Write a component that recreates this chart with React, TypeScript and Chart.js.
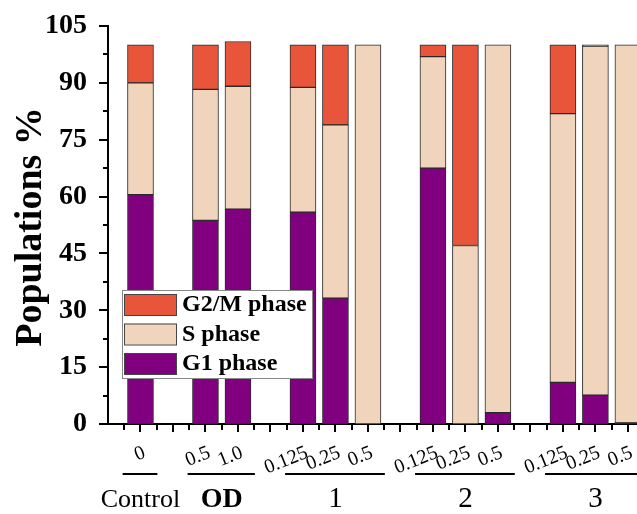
import React, { useEffect, useRef } from 'react';
import { Chart, registerables } from 'chart.js';

Chart.register(...registerables);

// ---- data ----
const slots = [1, 3, 4, 6, 7, 8, 10, 11, 12, 14, 15, 16];
const tickLabels = ['0', '0.5', '1.0', '0.125', '0.25', '0.5', '0.125', '0.25', '0.5', '0.125', '0.25', '0.5'];
const g1Values = [60.5, 53.7, 56.7, 55.9, 33.2, 0, 67.5, 0, 3.0, 11.0, 7.6, 0.3];
const sValues = [29.5, 34.6, 32.4, 32.9, 45.7, 100, 29.4, 47.1, 97.0, 70.9, 92.1, 99.7];
const g2Values = [10.0, 11.7, 11.8, 11.2, 21.1, 0, 3.1, 52.9, 0, 18.1, 0.3, 0];
const seriesNames = ['G1 phase', 'S phase', 'G2/M phase'];
const groupLabels = ['Control', 'OD', '1', '2', '3'];
const groupFirstSlot = [1, 3, 6, 10, 14];
const groupLastSlot = [1, 4, 8, 12, 16];
const yTitle = 'Populations %';
const yMax = 105;
const yStep = 15;

const FONT = "'Liberation Serif', 'Times New Roman', serif";
const COLORS = ['#800080', '#F0D5BC', '#E8553A'];

const decor = {
  id: 'decor',
  afterDraw(chart: any) {
    const { ctx, chartArea } = chart;
    const x = chart.scales.x;
    const y = chart.scales.y;
    ctx.save();
    ctx.strokeStyle = '#000';
    ctx.lineWidth = 2;
    // y ticks (major + minor)
    for (let k = 0; k * (yStep / 2) <= yMax + 0.001; k++) {
      const v = k * (yStep / 2);
      const py = Math.round(y.getPixelForValue(v));
      const len = k % 2 === 0 ? 9 : 5;
      ctx.beginPath();
      ctx.moveTo(chartArea.left - len, py);
      ctx.lineTo(chartArea.left, py);
      ctx.stroke();
    }
    // x ticks (major at integers, minor at halves)
    for (let k = 1; ; k++) {
      const v = k * 0.5;
      const px = Math.round(x.getPixelForValue(v));
      if (px > chartArea.right) break;
      const len = k % 2 === 0 ? 8 : 6;
      ctx.beginPath();
      ctx.moveTo(px, chartArea.bottom);
      ctx.lineTo(px, chartArea.bottom + len);
      ctx.stroke();
    }
    // y axis title
    ctx.save();
    ctx.translate(31, (chartArea.top + chartArea.bottom) / 2 + 2);
    ctx.rotate(-Math.PI / 2);
    ctx.font = `bold 38px ${FONT}`;
    ctx.fillStyle = '#000';
    ctx.textAlign = 'center';
    ctx.textBaseline = 'middle';
    ctx.fillText(yTitle, 0, 0);
    ctx.restore();
    // group lines and labels
    const slotPx = x.getPixelForValue(1) - x.getPixelForValue(0);
    groupLabels.forEach((lab, i) => {
      const a = x.getPixelForValue(groupFirstSlot[i]) - 0.55 * slotPx;
      const b = x.getPixelForValue(groupLastSlot[i]) + 0.52 * slotPx;
      ctx.strokeStyle = '#000';
      ctx.lineWidth = 2;
      ctx.beginPath();
      ctx.moveTo(a, 474);
      ctx.lineTo(b, 474);
      ctx.stroke();
      const cx = (x.getPixelForValue(groupFirstSlot[i]) + x.getPixelForValue(groupLastSlot[i])) / 2;
      let font = `29px ${FONT}`;
      if (lab === 'Control') font = `26px ${FONT}`;
      if (lab === 'OD') font = `bold 28px ${FONT}`;
      ctx.font = font;
      ctx.fillStyle = '#000';
      ctx.textAlign = 'center';
      ctx.textBaseline = 'alphabetic';
      ctx.fillText(lab, cx, 507);
    });
    // legend
    const lx = 122, ly = 290, lw = 190, lh = 88;
    ctx.fillStyle = '#fff';
    ctx.fillRect(lx, ly, lw, lh);
    ctx.strokeStyle = '#888';
    ctx.lineWidth = 1;
    ctx.strokeRect(lx + 0.5, ly + 0.5, lw, lh);
    const order = [2, 1, 0];
    order.forEach((si, row) => {
      const sy = ly + 4 + row * 29.5;
      ctx.fillStyle = COLORS[si];
      ctx.fillRect(lx + 2, sy, 52, 21);
      ctx.strokeStyle = '#444';
      ctx.lineWidth = 1;
      ctx.strokeRect(lx + 2.5, sy + 0.5, 52, 21);
      ctx.fillStyle = '#000';
      ctx.font = `bold 24px ${FONT}`;
      ctx.textAlign = 'left';
      ctx.textBaseline = 'middle';
      ctx.fillText(seriesNames[si], lx + 60, sy + 11);
    });
    ctx.restore();
  },
};

export default function App() {
  const ref = useRef<HTMLCanvasElement | null>(null);
  useEffect(() => {
    if (!ref.current) return;
    const mk = (vals: number[], i: number) => ({
      label: seriesNames[i],
      data: slots.map((s, j) => ({ x: s, y: vals[j] })),
      backgroundColor: COLORS[i],
      borderColor: '#2a2a2a',
      borderWidth: 1,
      borderSkipped: false,
      barThickness: 26,
    });
    const chart = new Chart(ref.current, {
      type: 'bar',
      data: { datasets: [mk(g1Values, 0), mk(sValues, 1), mk(g2Values, 2)] as any },
      options: {
        animation: false,
        responsive: false,
        devicePixelRatio: 1,
        layout: { padding: { top: 26, left: 0, right: 0, bottom: 0 } },
        plugins: { legend: { display: false }, tooltip: { enabled: false } },
        scales: {
          x: {
            type: 'linear',
            stacked: true,
            offset: false,
            min: 0,
            max: 16.28,
            grid: { display: false, offset: false },
            border: { display: true, color: '#000', width: 2 },
            afterBuildTicks: (s: any) => {
              s.ticks = slots.map((v) => ({ value: v }));
            },
            ticks: {
              autoSkip: false,
              minRotation: 22,
              maxRotation: 22,
              padding: 9,
              labelOffset: 4,
              color: '#000',
              font: { family: FONT, size: 20 },
              callback: (_v: any, i: number) => tickLabels[i],
            },
            afterFit: (s: any) => {
              s.height = 90;
              s.paddingLeft = 0;
              s.paddingRight = 0;
            },
          } as any,
          y: {
            stacked: true,
            min: 0,
            max: yMax,
            grid: { display: false },
            border: { display: true, color: '#000', width: 2 },
            ticks: {
              stepSize: yStep,
              padding: 13,
              color: '#000',
              font: { family: FONT, size: 28, weight: 'bold' },
            },
            afterFit: (s: any) => {
              s.width = 108;
              s.paddingTop = 0;
              s.paddingBottom = 0;
            },
          } as any,
        },
      },
      plugins: [decor],
    });
    return () => chart.destroy();
  }, []);
  return (
    <div style={{ position: 'fixed', left: 0, top: 0, width: 637, height: 514, background: '#fff' }}>
      <canvas ref={ref} width={637} height={514} style={{ display: 'block' }} />
    </div>
  );
}
